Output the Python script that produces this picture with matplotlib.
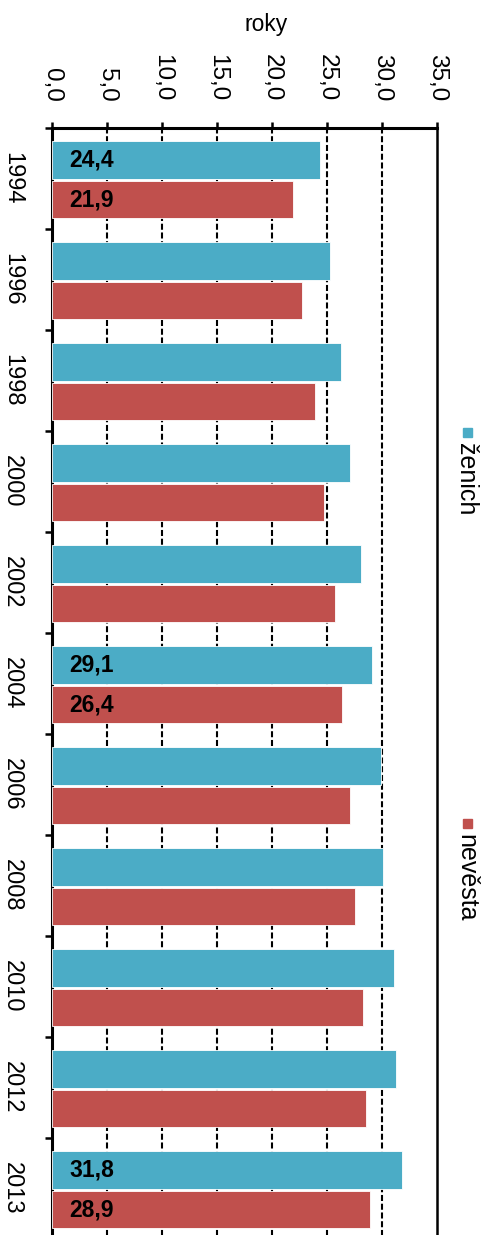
import matplotlib
matplotlib.use("Agg")
import matplotlib.pyplot as plt
from matplotlib.patches import Rectangle
import numpy as np

years = ["1994", "1996", "1998", "2000", "2002", "2004", "2006", "2008", "2010", "2012", "2013"]
zenich = [24.4, 25.3, 26.3, 27.1, 28.1, 29.1, 29.9, 30.1, 31.1, 31.3, 31.8]
nevesta = [21.9, 22.7, 23.9, 24.7, 25.7, 26.4, 27.1, 27.5, 28.3, 28.5, 28.9]
series_names = ["ženich", "nevěsta"]
x_ticks = [0, 5, 10, 15, 20, 25, 30, 35]
labelled_groups = [0, 5, 10]

BLUE = "#4BACC6"
RED = "#C0504D"

plt.rcParams['font.family'] = ['Liberation Sans', 'DejaVu Sans']

W, H = 488, 1235
fig = plt.figure(figsize=(W / 100, H / 100), dpi=100)
ax = fig.add_axes([52 / W, 1 - 1239 / H, 385 / W, 1111 / H])

n = len(years)
idx = np.arange(n)
bh = 0.372
ax.barh(idx + 0.315, zenich, height=bh, color=BLUE, edgecolor="white", linewidth=0.6, zorder=3)
ax.barh(idx + 0.708, nevesta, height=bh, color=RED, edgecolor="white", linewidth=0.6, zorder=3)

for g in labelled_groups:
    ax.text(1.6, g + 0.315, f"{zenich[g]:.1f}".replace(".", ","), ha="left", va="center",
            fontsize=16.5, fontweight="bold", color="black", zorder=4)
    ax.text(1.6, g + 0.708, f"{nevesta[g]:.1f}".replace(".", ","), ha="left", va="center",
            fontsize=16.5, fontweight="bold", color="black", zorder=4)

ax.set_xlim(0, 35)
ax.set_ylim(n, 0)

for v in x_ticks[1:-1]:
    ax.axvline(v, color="black", lw=1.5, linestyle=(0, (2.9, 1.3)), zorder=1)

ax.xaxis.tick_top()
ax.set_xticks(x_ticks)
ax.set_xticklabels([f"{v:.1f}".replace(".", ",") for v in x_ticks], rotation=-90, fontsize=17.5)
ax.tick_params(axis="x", which="major", direction="out", length=4, width=1.8, pad=15)

ax.set_yticks(np.arange(n + 1))
ax.set_yticklabels([])
ax.tick_params(axis="y", which="major", direction="out", length=5, width=1.8)
ax.set_yticks(idx + 0.5, minor=True)
ax.set_yticklabels(years, minor=True, rotation=-90, fontsize=17, va="center")
ax.tick_params(axis="y", which="minor", length=0, pad=21)

for s in ["top", "left", "right"]:
    ax.spines[s].set_linewidth(2.2)
    ax.spines[s].set_color("black")
ax.spines["bottom"].set_visible(False)
ax.spines["right"].set_linewidth(1.8)

fig.text(266 / W, 1 - 25 / H, "roky", ha="center", va="center", fontsize=16.5)

# legend (rotated)
leg_x = 466 / W
for name, col, ytop in [(series_names[0], BLUE, 428), (series_names[1], RED, 819)]:
    fig.add_artist(Rectangle((463 / W, 1 - (ytop + 9) / H), 9 / W, 9 / H,
                             transform=fig.transFigure, color=col))
    fig.text(leg_x, 1 - (ytop + 15) / H, name, rotation=-90, ha="center", va="top", fontsize=18)

fig.savefig("out.png", dpi=100)
